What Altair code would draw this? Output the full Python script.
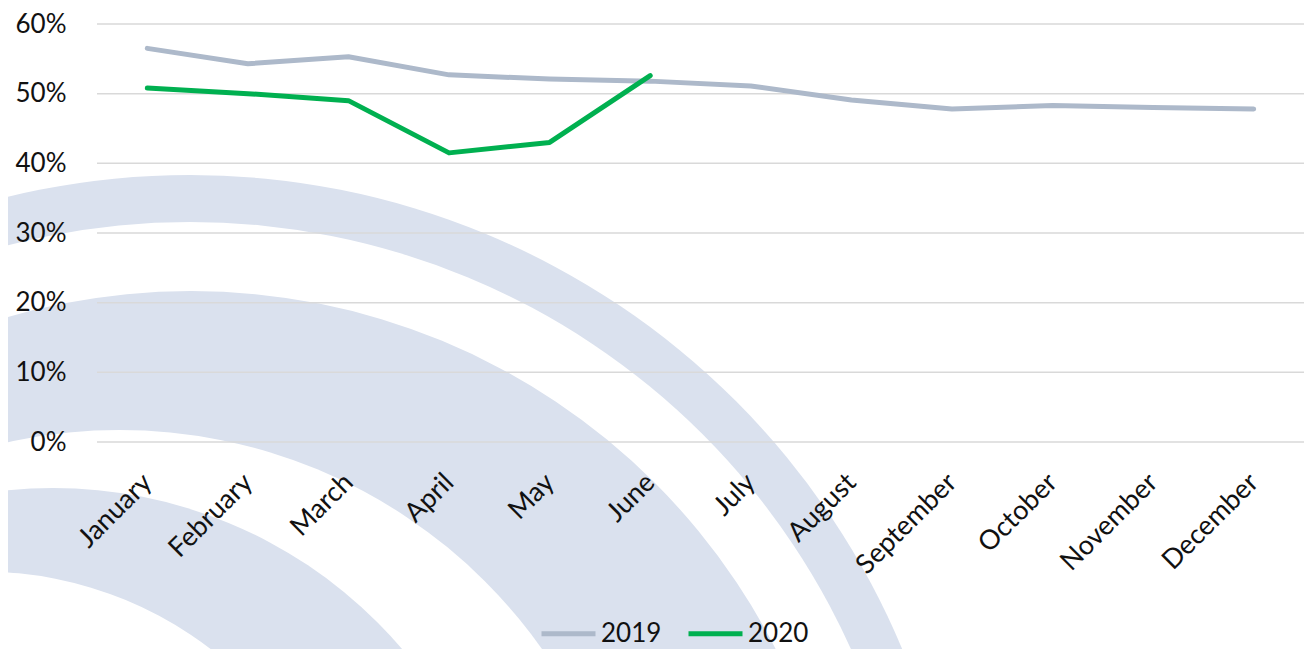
import math
import altair as alt
import pandas as pd

months = ["January", "February", "March", "April", "May", "June",
          "July", "August", "September", "October", "November", "December"]
series_2019 = [56.5, 54.3, 55.3, 52.7, 52.1, 51.8, 51.1, 49.1, 47.8, 48.3, 48.0, 47.8]
series_2020 = [50.8, 50.0, 49.0, 41.5, 43.0, 52.6]
years = ["2019", "2020"]
colors = ["#ADB9CA", "#00B050"]
grid_values = [0, 0.1, 0.2, 0.3, 0.4, 0.5, 0.6]

# decorative background rings (circles painted in order: band colour, then white)
BAND = "#DAE1EE"
rings = [
    (93, 923, 772, BAND), (93, 923, 725, "white"),
    (94, 923, 656, BAND), (22.5, 923, 517, "white"),
    (-44, 923, 459, BAND), (-115, 923, 375.5, "white"),
]

rows = []
for i, m in enumerate(months):
    rows.append({"month": m, "year": "2019", "value": series_2019[i] / 100})
for i, v in enumerate(series_2020):
    rows.append({"month": months[i], "year": "2020", "value": v / 100})
df = pd.DataFrame(rows)

FONT = "Lato"
W, H = 1207, 418

dummy = pd.DataFrame({"k": [0]})
bg_layers = []
for cx, cy, r, col in rings:
    bg_layers.append(
        alt.Chart(dummy).mark_arc(theta=0, theta2=2 * math.pi, radius=r, color=col)
        .encode(x=alt.value(cx), y=alt.value(cy))
    )

y_scale = alt.Scale(domain=[0, 0.6], nice=False)
y_axis = alt.Axis(title=None, format=".0%", values=grid_values, labelFontSize=26,
                  labelFont=FONT, labelColor="#111", ticks=False, domain=False,
                  grid=False, labelPadding=31, zindex=1)

grid = alt.Chart(pd.DataFrame({"g": grid_values})).mark_rule(
    color="#D9D9D9", strokeWidth=1.5
).encode(y=alt.Y("g:Q", scale=y_scale, axis=y_axis))

lines = alt.Chart(df).mark_line(strokeWidth=5, strokeCap="round", strokeJoin="round").encode(
    x=alt.X("month:N", sort=months, scale=alt.Scale(padding=0.5),
            axis=alt.Axis(title=None, labelAngle=-45, labelAlign="right", labelBaseline="middle",
                          labelFontSize=27, labelFont=FONT, labelColor="#111", ticks=False,
                          domain=False, labelPadding=36, zindex=1, grid=False)),
    y=alt.Y("value:Q", scale=y_scale, axis=y_axis),
    color=alt.Color("year:N", scale=alt.Scale(domain=years, range=colors),
                    legend=alt.Legend(title=None, orient="none", direction="horizontal",
                                      legendX=442, legendY=580, symbolType="stroke",
                                      symbolStrokeWidth=5, symbolSize=2916, labelFontSize=26,
                                      labelFont=FONT, labelColor="#111", labelOffset=3,
                                      columnPadding=16, padding=0)),
)

chart = alt.layer(*bg_layers, grid, lines).properties(
    width=W, height=H,
    autosize=alt.AutoSizeParams(type="none"),
    padding={"left": 89, "top": 16, "right": 0, "bottom": 207},
).configure_view(stroke=None)

chart.save("out.html", embed_options={"renderer": "svg", "actions": False})
